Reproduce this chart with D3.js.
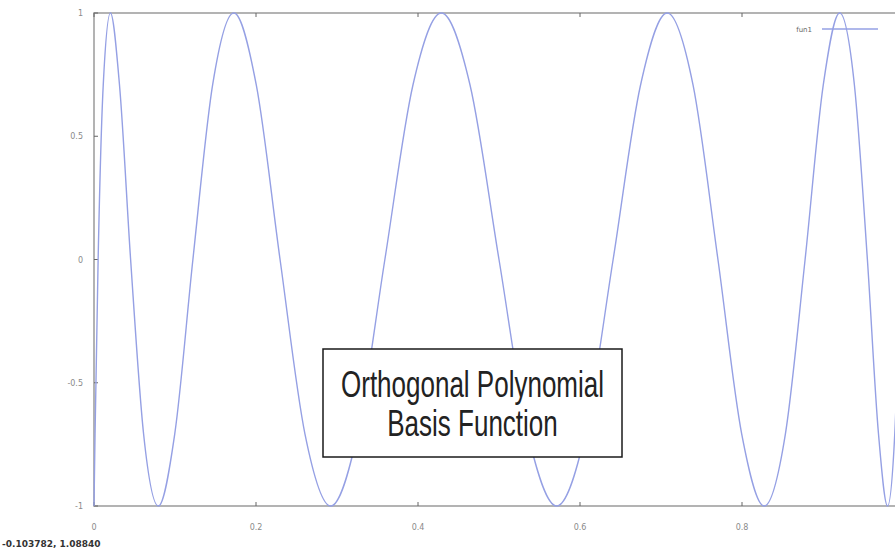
<!DOCTYPE html>
<html>
<head>
<meta charset="utf-8">
<script src="https://cdn.jsdelivr.net/npm/d3@7"></script>
<style>
  html, body { margin: 0; padding: 0; background: #fff; }
  svg { display: block; }
</style>
</head>
<body>
<svg id="chart" width="895" height="550"></svg>
<script>
// ---- data ----
const seriesName = "fun1";
const xValues = [0, 0.0013, 0.0051, 0.0114, 0.0203, 0.0315, 0.0452, 0.0612, 0.0794, 0.0997,
  0.1221, 0.1464, 0.1726, 0.2004, 0.2297, 0.2604, 0.2923, 0.3253, 0.3591, 0.3937,
  0.4288, 0.4643, 0.5, 0.5357, 0.5712, 0.6063, 0.6409, 0.6747, 0.7077, 0.7396,
  0.7703, 0.7996, 0.8274, 0.8536, 0.8779, 0.9003, 0.9206, 0.9388, 0.9548, 0.9685,
  0.9797, 0.9886, 0.9949, 0.9987, 1];
const yValues = [-1, -0.707, 0, 0.707, 1, 0.707, 0, -0.707, -1, -0.707,
  0, 0.707, 1, 0.707, 0, -0.707, -1, -0.707, 0, 0.707,
  1, 0.707, 0, -0.707, -1, -0.707, 0, 0.707, 1, 0.707,
  0, -0.707, -1, -0.707, 0, 0.707, 1, 0.707, 0, -0.707,
  -1, -0.707, 0, 0.707, 1];
const xTicks = [0, 0.2, 0.4, 0.6, 0.8];
const xTickLabels = ["0", "0.2", "0.4", "0.6", "0.8"];
const yTicks = [-1, -0.5, 0, 0.5, 1];
const yTickLabels = ["-1", "-0.5", "0", "0.5", "1"];
const titleLines = ["Orthogonal Polynomial", "Basis Function"];
const statusText = "-0.103782, 1.08840";

(function () {
// ---- layout ----
const svg = d3.select("#chart");
const mLeft = 94, mRight = 904, mTop = 13, mBottom = 506;
const x = d3.scaleLinear().domain([0, 1]).range([mLeft, mRight]);
const y = d3.scaleLinear().domain([-1, 1]).range([mBottom, mTop]);
const frameColor = "#9a9a9a";
const lineColor = "#95a0e4";
const labelColor = "#8a8a8a";

const points = xValues.map((d, i) => [d, yValues[i]]);

// frame
svg.append("rect")
  .attr("x", mLeft).attr("y", mTop)
  .attr("width", mRight - mLeft).attr("height", mBottom - mTop)
  .attr("fill", "none").attr("stroke", frameColor).attr("stroke-width", 1.5);

// x ticks (bottom and mirrored top, inward)
const gx = svg.append("g");
xTicks.forEach((t, i) => {
  gx.append("line").attr("x1", x(t)).attr("x2", x(t)).attr("y1", mBottom).attr("y2", mBottom - 4)
    .attr("stroke", "#666").attr("stroke-width", 1);
  gx.append("line").attr("x1", x(t)).attr("x2", x(t)).attr("y1", mTop).attr("y2", mTop + 4)
    .attr("stroke", "#666").attr("stroke-width", 1);
  gx.append("text").attr("x", x(t)).attr("y", 530)
    .attr("text-anchor", "middle")
    .attr("font-family", "DejaVu Sans, sans-serif").attr("font-size", 8)
    .attr("fill", labelColor).text(xTickLabels[i]);
});

// y ticks
const gy = svg.append("g");
yTicks.forEach((t, i) => {
  gy.append("line").attr("x1", mLeft).attr("x2", mLeft + 4).attr("y1", y(t)).attr("y2", y(t))
    .attr("stroke", "#666").attr("stroke-width", 1);
  gy.append("text").attr("x", 83).attr("y", y(t) + 3)
    .attr("text-anchor", "end")
    .attr("font-family", "DejaVu Sans, sans-serif").attr("font-size", 8)
    .attr("fill", labelColor).text(yTickLabels[i]);
});

// curve
const line = d3.line()
  .x(d => x(d[0]))
  .y(d => y(d[1]))
  .curve(d3.curveMonotoneX);
svg.append("path")
  .datum(points)
  .attr("d", line)
  .attr("fill", "none")
  .attr("stroke", lineColor)
  .attr("stroke-width", 1.4);

// legend
svg.append("text").attr("x", 812).attr("y", 32)
  .attr("text-anchor", "end")
  .attr("font-family", "DejaVu Sans, sans-serif").attr("font-size", 7)
  .attr("fill", "#666").text(seriesName);
svg.append("line").attr("x1", 822).attr("x2", 878).attr("y1", 29).attr("y2", 29)
  .attr("stroke", lineColor).attr("stroke-width", 1.4);

// annotation box
const box = { x: 323, y: 349, w: 299, h: 108 };
svg.append("rect")
  .attr("x", box.x).attr("y", box.y).attr("width", box.w).attr("height", box.h)
  .attr("fill", "#fff").attr("stroke", "#1a1a1a").attr("stroke-width", 1.5);
const baselines = [397, 436];
titleLines.forEach((s, i) => {
  svg.append("text")
    .attr("transform", `translate(${box.x + box.w / 2},${baselines[i]}) scale(1,1.4)`)
    .attr("text-anchor", "middle")
    .attr("font-family", "Liberation Sans, Arial, sans-serif")
    .attr("font-size", 26)
    .attr("fill", "#222")
    .text(s);
});

// status text (bottom-left)
svg.append("text").attr("x", 2).attr("y", 547)
  .attr("font-family", "DejaVu Sans, sans-serif").attr("font-size", 9)
  .attr("font-weight", "bold")
  .attr("fill", "#333").text(statusText);
})();
</script>
</body>
</html>
